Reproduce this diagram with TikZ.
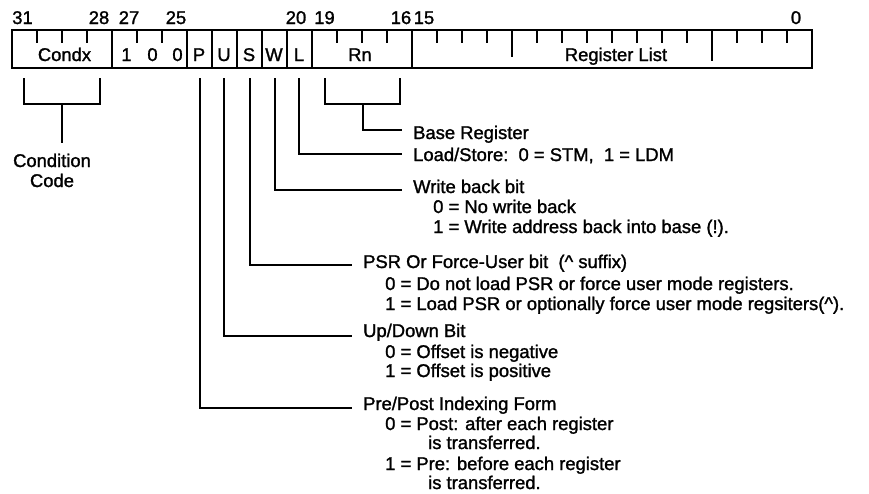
\documentclass[tikz,border=0pt]{standalone}
\usepackage{fontspec}
\setmainfont[FakeBold=1.4]{Liberation Sans}
\begin{document}
\begin{tikzpicture}[x=1pt,y=-1pt,
  boxline/.style={line width=1.6pt},
  conn/.style={line width=1.5pt},
  tickline/.style={line width=1.3pt},
  txt/.style={anchor=base west,inner sep=0pt,font=\fontsize{18.4}{20}\selectfont},
  ctxt/.style={anchor=base,inner sep=0pt,font=\fontsize{18.4}{20}\selectfont}]
\useasboundingbox (0,0) rectangle (869,493);
% register box
\draw[boxline] (12,30) rectangle (812,68);
\foreach \x in {112,187,212,237,262,287,312,412}
  \draw[boxline] (\x,30) -- (\x,68);
% short ticks
\foreach \x in {37,62,87,137,162,337,362,387,437,462,487,537,562,587,612,637,662,687,737,762,787}
  \draw[tickline] (\x,30) -- (\x,43);
\draw[tickline] (512,30) -- (512,57);
\draw[tickline] (712,30) -- (712,61);
% bit numbers
\node[ctxt] (n31) at (22.5,24) {31};
\node[ctxt] (n28) at (99,24) {28};
\node[ctxt] (n27) at (129,24) {27};
\node[ctxt] (n25) at (176,24) {25};
\node[ctxt] (n20) at (296,24) {20};
\node[ctxt] (n19) at (324.5,24) {19};
\node[ctxt] (n16) at (401,24) {16};
\node[ctxt] (n15) at (424,24) {15};
\node[ctxt] (n0) at (796,24) {0};
% field labels
\node[ctxt] (condx) at (64.5,61) {Condx};
\node[ctxt] (b27) at (126.5,61) {1};
\node[ctxt] (b26) at (152.5,61) {0};
\node[ctxt] (b25) at (177.5,61) {0};
\node[ctxt] (fP) at (199,61) {P};
\node[ctxt] (fU) at (224,61) {U};
\node[ctxt] (fS) at (249,61) {S};
\node[ctxt] (fW) at (274,61) {W};
\node[ctxt] (fL) at (299,61) {L};
\node[ctxt] (fRn) at (360,61) {Rn};
\node[ctxt] (fRL) at (616,61) {Register List};
% connector coordinates
\coordinate (c31) at (24,78);
\coordinate (c28) at (100,78);
\coordinate (ccb) at (62,104);
\coordinate (cce) at (62,143);
\coordinate (r19) at (325,78);
\coordinate (r16) at (400,78);
\coordinate (rnb) at (363,104);
\coordinate (rne) at (402,130);
\coordinate (sL) at (299,78);
\coordinate (eL) at (402,154);
\coordinate (sW) at (275,78);
\coordinate (eW) at (402,190);
\coordinate (sS) at (250,78);
\coordinate (eS) at (352,265);
\coordinate (sU) at (224,78);
\coordinate (eU) at (352,336);
\coordinate (sP) at (200,78);
\coordinate (eP) at (352,408);
% connectors
\draw[conn] (c31) |- (ccb) -| (c28);
\draw[conn] (ccb) -- (cce);
\draw[conn] (r19) |- (rnb) -| (r16);
\draw[conn] (rnb) |- (rne);
\draw[conn] (sL) |- (eL);
\draw[conn] (sW) |- (eW);
\draw[conn] (sS) |- (eS);
\draw[conn] (sU) |- (eU);
\draw[conn] (sP) |- (eP);
% descriptions
\node[ctxt] (cc1) at (52,167) {Condition};
\node[ctxt] (cc2) at (52,187) {Code};
\node[txt] (base) at (413,139) {Base Register};
\node[txt] (ls) at (413,161) {Load/Store:\ \ 0 = STM,\ \ 1 = LDM};
\node[txt] (wb) at (413,193) {Write back bit};
\node[txt] (wb0) at (433,213) {0 = No write back};
\node[txt] (wb1) at (433,233) {1 = Write address back into base (!).};
\node[txt] (psr) at (363,268) {PSR Or Force-User bit\ \ (\^{} suffix)};
\node[txt] (psr0) at (385,290) {0 = Do not load PSR or force user mode registers.};
\node[txt] (psr1) at (385,310) {1 = Load PSR or optionally force user mode regsiters(\^{}).};
\node[txt] (ud) at (363,337) {Up/Down Bit};
\node[txt] (ud0) at (385,358) {0 = Offset is negative};
\node[txt] (ud1) at (385,377) {1 = Offset is positive};
\node[txt] (pp) at (363,410) {Pre/Post Indexing Form};
\node[txt] (pp0) at (385,430) {0 = Post: after each register};
\node[txt] (pp0b) at (428,449) {is transferred.};
\node[txt] (pp1) at (385,470) {1 = Pre: before each register};
\node[txt] (pp1b) at (428,489) {is transferred.};
\end{tikzpicture}
\end{document}
